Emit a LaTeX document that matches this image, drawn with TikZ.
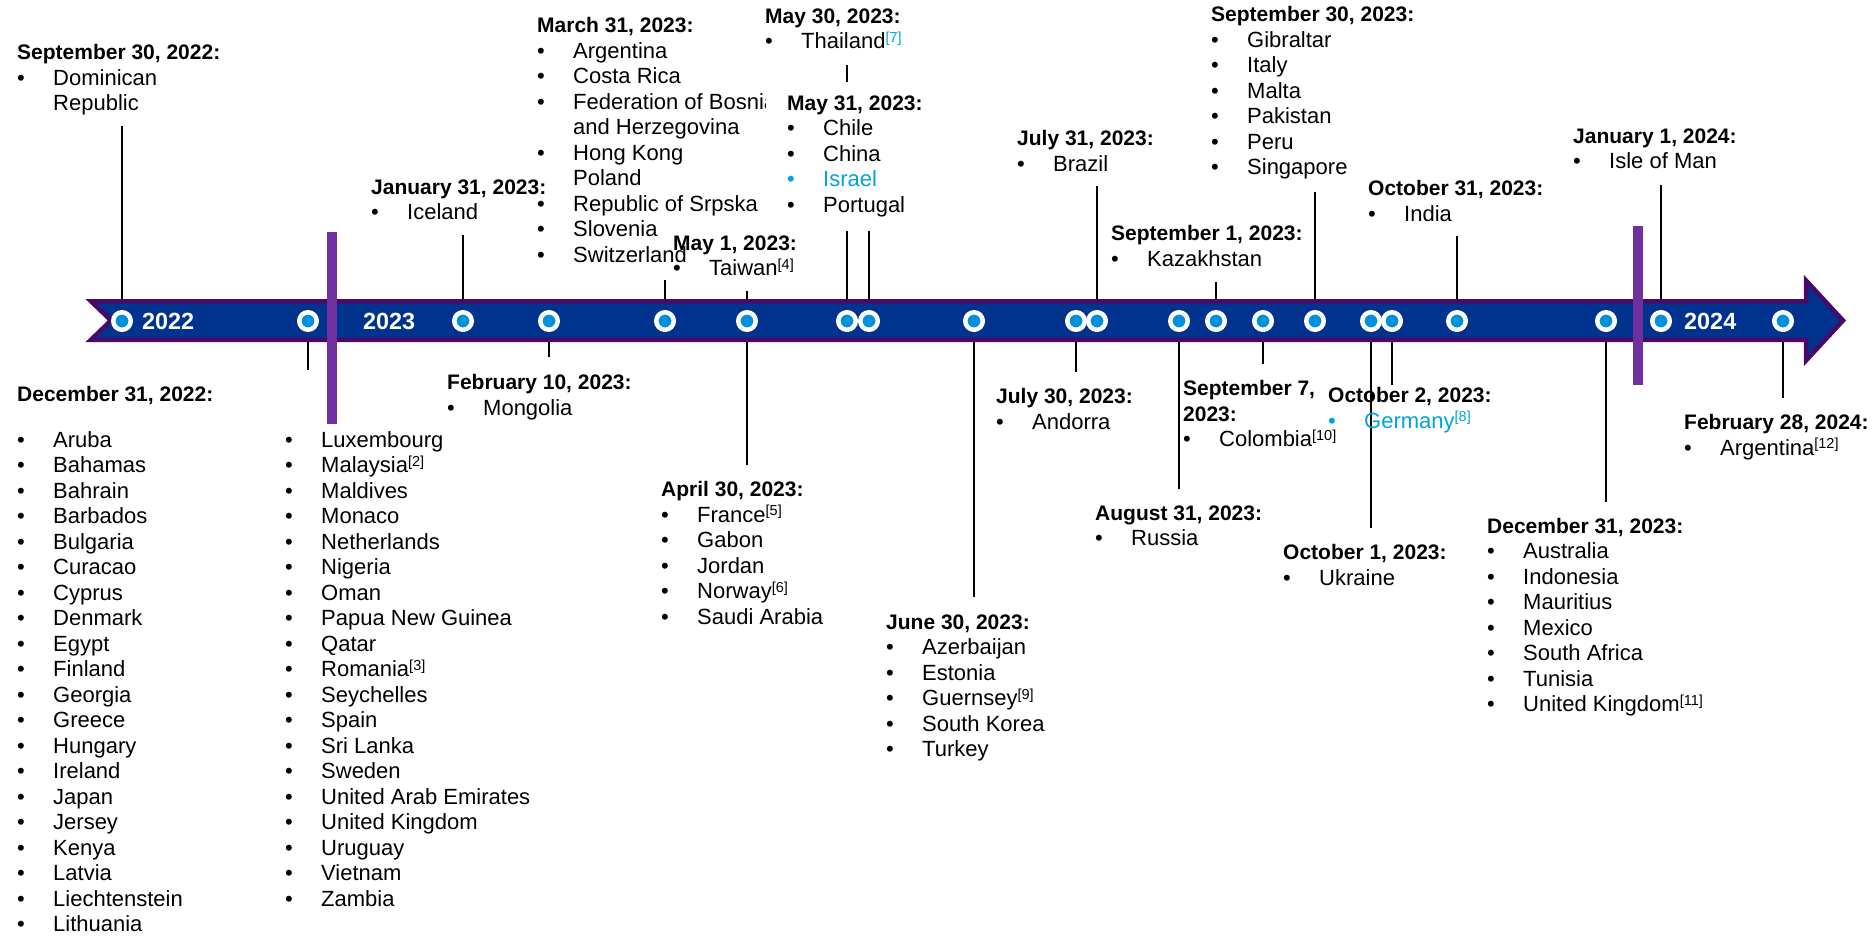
\documentclass[tikz,border=0pt]{standalone}
\usepackage{fontspec}
\setmainfont{Liberation Sans}
\usepackage{xcolor}
\usepackage{tikz}

\definecolor{bandblue}{HTML}{00338D}
\definecolor{bandpurple}{HTML}{470A68}
\definecolor{barpurple}{HTML}{7030A0}
\definecolor{dotblue}{HTML}{0091DA}
\definecolor{linkcyan}{HTML}{00A3E1}

\pgfdeclarelayer{leaders}
\pgfdeclarelayer{band}
\pgfsetlayers{leaders,band,main}

\newcommand\evdate[1]{{\bfseries\fontsize{21}{25.5}\selectfont #1}}
\newcommand\evitem[1]{\makebox[36pt][l]{\textbullet}#1}
\newcommand\evcont[1]{\makebox[36pt][l]{}#1}
\newcommand\evnote[1]{\raisebox{6.5pt}{\fontsize{14.5}{14.5}\selectfont[#1]}}

\tikzset{
  datedot/.style={circle,fill=dotblue,draw=white,line width=4.5pt,minimum size=17.5pt,inner sep=0pt},
  leaderline/.style={black,line width=1.8pt},
  evtext/.style={anchor=north west,inner sep=0pt,align=left,font=\fontsize{22}{25.5}\selectfont},
  yearlabel/.style={anchor=west,inner sep=0pt,text=white,font=\bfseries\fontsize{23.4}{24}\selectfont},
}

\begin{document}
\begin{tikzpicture}[x=1pt,y=-1pt]
  \useasboundingbox (0,0) rectangle (1873,937);

  % the arrow band
  \begin{pgfonlayer}{band}
    \draw [fill=bandblue,draw=bandpurple,line width=4.5pt,line join=miter]
      (91,301.25) -- (1806,301.25) -- (1806,280.5) -- (1843,320.5) -- (1806,360.5)
      -- (1806,339.75) -- (91,339.75) -- (111,320.5) -- cycle;
  \end{pgfonlayer}
  \fill [barpurple] (327,232) rectangle (337,424);
  \fill [barpurple] (1633,226) rectangle (1643,385);

  % dates on the band
  \foreach \n/\x in {sep22/122, dec22/308, jan23/463, feb23/549, mar23/665, apr23/747,
      may30/847, may31/869, jun23/974, jul30/1076, jul31/1097, aug23/1179, sep01/1216,
      sep07/1263, sep30/1315, oct01/1371, oct02/1392, oct23/1457, dec23/1606,
      jan24/1661, feb24/1783}
    \node [datedot] (c-\n) at (\x,321) {};

  \node [yearlabel] (y2022) at (142,321) {2022};
  \node [yearlabel] (y2023) at (363,321) {2023};
  \node [yearlabel] (y2024) at (1684,321) {2024};

  \begin{pgfonlayer}{leaders}
    \foreach \n/\y in {sep22/126, dec22/370, jan23/235, feb23/357, mar23/280, apr23/291,
        apr23/465, may30/65, may31/228, jun23/597, jul30/372, jul31/186, aug23/489,
        sep01/282, sep07/364, sep30/192, oct01/528, oct02/385, oct23/236, dec23/502,
        jan24/185, feb24/398}
    {
      \coordinate (e-\n-\y) at (c-\n |- 0,\y);
      \draw [leaderline] (c-\n) -- (e-\n-\y);
    }
  \end{pgfonlayer}

  % texts above the band
  \node [evtext] (t-sep22) at (17,44.5) {\evdate{September 30, 2022:}\\
    \evitem{Dominican}\\ \evcont{Republic}};
  \node [evtext] (t-jan23) at (371,179.5) {\evdate{January 31, 2023:}\\ \evitem{Iceland}};
  \node [evtext] (t-mar23) at (537,17.5) {\evdate{March 31, 2023:}\\
    \evitem{Argentina}\\ \evitem{Costa Rica}\\ \evitem{Federation of Bosnia}\\
    \evcont{and Herzegovina}\\ \evitem{Hong Kong}\\ \evcont{Poland}\\
    \evitem{Republic of Srpska}\\ \evitem{Slovenia}\\ \evitem{Switzerland}};
  \node [evtext] (t-may30) at (765,8.5) {\evdate{May 30, 2023:}\\
    \evitem{Thailand{\color{linkcyan}\evnote{7}}}};
  \node [evtext,fill=white,inner xsep=21pt,inner ysep=14pt] (t-may31) at (766,81.5)
    {\evdate{May 31, 2023:}\\ \evitem{Chile}\\ \evitem{China}\\
    {\color{linkcyan}\evitem{Israel}}\\ \evitem{Portugal}};
  \node [evtext] (t-may01) at (673,235.5) {\evdate{May 1, 2023:}\\ \evitem{Taiwan\evnote{4}}};
  \node [evtext] (t-jul31) at (1017,130.5) {\evdate{July 31, 2023:}\\ \evitem{Brazil}};
  \node [evtext] (t-sep01) at (1111,225.5) {\evdate{September 1, 2023:}\\ \evitem{Kazakhstan}};
  \node [evtext] (t-sep30) at (1211,6.5) {\evdate{September 30, 2023:}\\
    \evitem{Gibraltar}\\ \evitem{Italy}\\ \evitem{Malta}\\ \evitem{Pakistan}\\
    \evitem{Peru}\\ \evitem{Singapore}};
  \node [evtext] (t-oct31) at (1368,180.5) {\evdate{October 31, 2023:}\\ \evitem{India}};
  \node [evtext] (t-jan24) at (1573,128.5) {\evdate{January 1, 2024:}\\ \evitem{Isle of Man}};

  % texts below the band
  \node [evtext] (t-dec22) at (17,386.5) {\evdate{December 31, 2022:}\\[20pt]
    \evitem{Aruba}\\ \evitem{Bahamas}\\ \evitem{Bahrain}\\ \evitem{Barbados}\\
    \evitem{Bulgaria}\\ \evitem{Curacao}\\ \evitem{Cyprus}\\ \evitem{Denmark}\\
    \evitem{Egypt}\\ \evitem{Finland}\\ \evitem{Georgia}\\ \evitem{Greece}\\
    \evitem{Hungary}\\ \evitem{Ireland}\\ \evitem{Japan}\\ \evitem{Jersey}\\
    \evitem{Kenya}\\ \evitem{Latvia}\\ \evitem{Liechtenstein}\\ \evitem{Lithuania}};
  \node [evtext] (t-dec22b) at (285,431) {\evitem{Luxembourg}\\
    \evitem{Malaysia\evnote{2}}\\ \evitem{Maldives}\\ \evitem{Monaco}\\
    \evitem{Netherlands}\\ \evitem{Nigeria}\\ \evitem{Oman}\\ \evitem{Papua New Guinea}\\
    \evitem{Qatar}\\ \evitem{Romania\evnote{3}}\\ \evitem{Seychelles}\\ \evitem{Spain}\\
    \evitem{Sri Lanka}\\ \evitem{Sweden}\\ \evitem{United Arab Emirates}\\
    \evitem{United Kingdom}\\ \evitem{Uruguay}\\ \evitem{Vietnam}\\ \evitem{Zambia}};
  \node [evtext] (t-feb23) at (447,374.5) {\evdate{February 10, 2023:}\\ \evitem{Mongolia}};
  \node [evtext] (t-apr23) at (661,481.5) {\evdate{April 30, 2023:}\\
    \evitem{France\evnote{5}}\\ \evitem{Gabon}\\ \evitem{Jordan}\\
    \evitem{Norway\evnote{6}}\\ \evitem{Saudi Arabia}};
  \node [evtext] (t-jun23) at (886,614.5) {\evdate{June 30, 2023:}\\
    \evitem{Azerbaijan}\\ \evitem{Estonia}\\ \evitem{Guernsey\evnote{9}}\\
    \evitem{South Korea}\\ \evitem{Turkey}};
  \node [evtext] (t-jul30) at (996,388.5) {\evdate{July 30, 2023:}\\ \evitem{Andorra}};
  \node [evtext] (t-aug23) at (1095,505.5) {\evdate{August 31, 2023:}\\ \evitem{Russia}};
  \node [evtext] (t-sep07) at (1183,380.5) {\evdate{September 7,}\\ \evdate{2023:}\\
    \evitem{Colombia\evnote{10}}};
  \node [evtext] (t-oct01) at (1283,544.5) {\evdate{October 1, 2023:}\\ \evitem{Ukraine}};
  \node [evtext] (t-oct02) at (1328,387.5) {\evdate{October 2, 2023:}\\
    {\color{linkcyan}\evitem{Germany\evnote{8}}}};
  \node [evtext] (t-dec23) at (1487,518) {\evdate{December 31, 2023:}\\
    \evitem{Australia}\\ \evitem{Indonesia}\\ \evitem{Mauritius}\\ \evitem{Mexico}\\
    \evitem{South Africa}\\ \evitem{Tunisia}\\ \evitem{United Kingdom\evnote{11}}};
  \node [evtext] (t-feb24) at (1684,414.5) {\evdate{February 28, 2024:}\\
    \evitem{Argentina\evnote{12}}};
\end{tikzpicture}
\end{document}
